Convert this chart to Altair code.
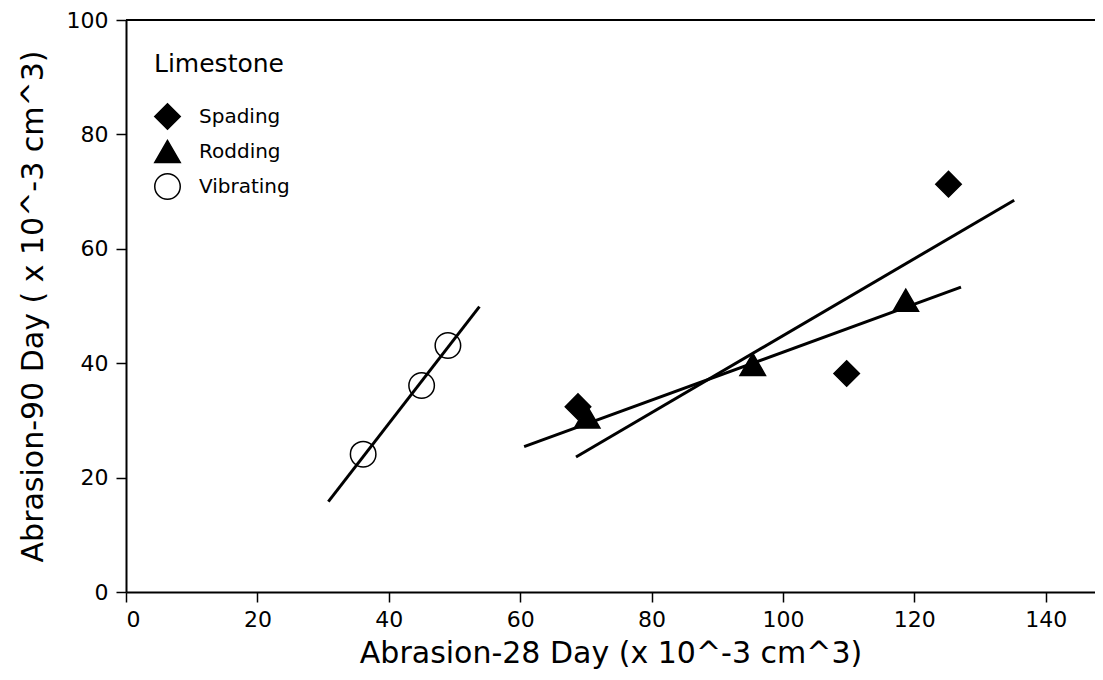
import altair as alt
import pandas as pd

series = ["Spading", "Rodding", "Vibrating"]

# measured points
spading_x = [68.8, 109.7, 125.2]
spading_y = [32.4, 38.2, 71.3]
rodding_x = [70.2, 95.4, 118.7]
rodding_y = [30.6, 39.8, 51.0]
vibrating_x = [36.1, 45.0, 49.0]
vibrating_y = [24.1, 36.1, 43.1]

# fitted line end points
spading_fit_x = [68.5, 135.2]
spading_fit_y = [23.6, 68.5]
rodding_fit_x = [60.6, 127.1]
rodding_fit_y = [25.4, 53.3]
vibrating_fit_x = [30.8, 53.8]
vibrating_fit_y = [15.8, 49.9]

x_ticks = [0, 20, 40, 60, 80, 100, 120, 140]
y_ticks = [0, 20, 40, 60, 80, 100]
frame_top = [100]

FONT = "DejaVu Sans"

pts = pd.DataFrame({
    "series": ["Spading"] * 3 + ["Rodding"] * 3 + ["Vibrating"] * 3,
    "x": spading_x + rodding_x + vibrating_x,
    "y": spading_y + rodding_y + vibrating_y,
})
fits = pd.DataFrame({
    "series": ["Spading"] * 2 + ["Rodding"] * 2 + ["Vibrating"] * 2,
    "x": spading_fit_x + rodding_fit_x + vibrating_fit_x,
    "y": spading_fit_y + rodding_fit_y + vibrating_fit_y,
})

xscale = alt.Scale(domain=[0, 147.5], nice=False, zero=False)
yscale = alt.Scale(domain=[0, 100], nice=False, zero=False)

xaxis = alt.Axis(values=x_ticks, title="Abrasion-28 Day (x 10^-3 cm^3)",
                 labelPadding=7, titlePadding=8, labelFontSize=22, labelFont=FONT,
                 titleFontSize=30)
yaxis = alt.Axis(values=y_ticks, title="Abrasion-90 Day ( x 10^-3 cm^3)",
                 labelPadding=8, titlePadding=18, labelFontSize=22, labelFont=FONT,
                 titleFontSize=30)

leg = alt.Legend(
    title="Limestone", orient="none", legendX=28, legendY=32,
    titleFont=FONT, titleFontSize=25, titleFontWeight="normal", titleColor="black",
    titlePadding=26, labelFont=FONT, labelFontSize=20, labelColor="black",
    symbolSize=650, symbolStrokeColor="black", symbolStrokeWidth=1.5,
    symbolOpacity=1, rowPadding=4, labelOffset=18, padding=0,
)

lines = alt.Chart(fits).mark_line(color="black", strokeWidth=3).encode(
    x=alt.X("x:Q", scale=xscale, axis=xaxis),
    y=alt.Y("y:Q", scale=yscale, axis=yaxis),
    detail="series:N",
)

points = alt.Chart(pts).mark_point(
    filled=True, opacity=1, strokeWidth=1.5, size=650
).encode(
    x=alt.X("x:Q", scale=xscale, axis=xaxis),
    y=alt.Y("y:Q", scale=yscale, axis=yaxis),
    shape=alt.Shape("series:N", scale=alt.Scale(domain=series, range=["diamond", "triangle-up", "circle"]), legend=leg),
    fill=alt.Fill("series:N", scale=alt.Scale(domain=series, range=["black", "black", "transparent"]), legend=leg),
    stroke=alt.Stroke("series:N", scale=alt.Scale(domain=series, range=["black", "black", "black"]), legend=leg),
)

top = alt.Chart(pd.DataFrame({"y": frame_top})).mark_rule(color="black", strokeWidth=2).encode(
    y=alt.Y("y:Q", scale=yscale, axis=yaxis)
)

chart = alt.layer(top, lines, points).properties(
    width=969, height=572,
    autosize=alt.AutoSizeParams(type="none"),
    padding={"left": 118, "top": 12, "right": 0, "bottom": 80},
).configure_view(stroke=None).configure_axis(
    grid=False, domainColor="black", domainWidth=2, tickColor="black", tickWidth=1.5,
    tickSize=10, labelFont=FONT, labelFontSize=22, labelColor="black",
    titleFont=FONT, titleFontSize=30, titleFontWeight="normal", titleColor="black",
)

chart.save("out.html", embed_options={"renderer": "svg", "actions": False})
